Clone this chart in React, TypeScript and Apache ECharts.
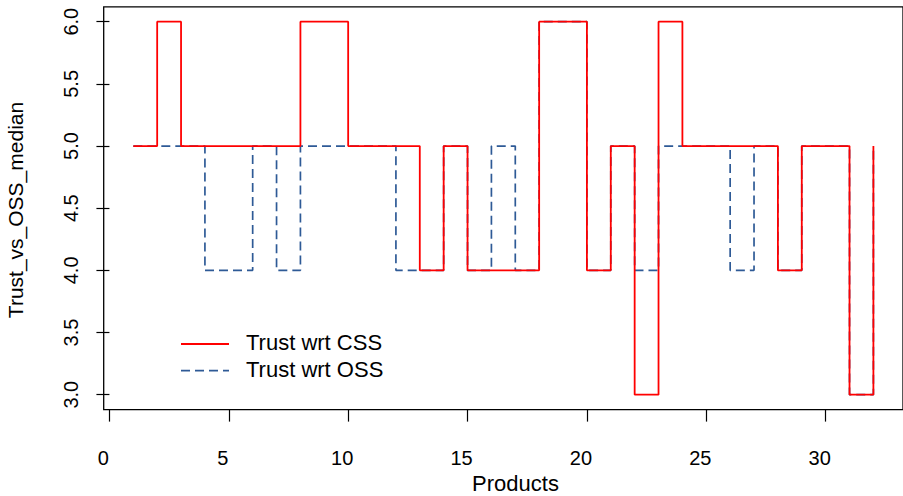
import React, { useEffect, useRef } from "react";
import * as echarts from "echarts";

const products = [1,2,3,4,5,6,7,8,9,10,11,12,13,14,15,16,17,18,19,20,21,22,23,24,25,26,27,28,29,30,31,32];
const trustCSS = [5,6,5,5,5,5,5,6,6,5,5,5,4,5,4,4,4,6,6,4,5,3,6,5,5,5,5,4,5,5,3,5];
const trustOSS = [5,5,5,4,4,5,4,5,5,5,5,4,4,5,4,5,4,6,6,4,5,4,5,5,5,4,5,4,5,5,3,5];
const xTicks = [0,5,10,15,20,25,30];
const yTicks = [3.0,3.5,4.0,4.5,5.0,5.5,6.0];
const legendLabels = ["Trust wrt CSS", "Trust wrt OSS"];

const RED = "#FF0000";
const BLUE = "#2E5A96";
const FONT = "Liberation Sans, Arial, Helvetica, sans-serif";

export default function App() {
  const ref = useRef<HTMLDivElement>(null);
  useEffect(() => {
    if (!ref.current) return;
    const chart = echarts.init(ref.current, null, { renderer: "svg" });
    const cssData = products.map((p, i) => [p, trustCSS[i]]);
    const ossData = products.map((p, i) => [p, trustOSS[i]]);
    chart.setOption({
      animation: false,
      backgroundColor: "#fff",
      grid: {
        show: true,
        left: 103.7,
        right: -1,
        top: 6.8,
        bottom: 86.4,
        borderColor: "#000",
        borderWidth: 1.3,
        backgroundColor: "transparent",
      },
      xAxis: {
        type: "value",
        min: -0.24,
        max: 33.24,
        axisLine: { show: false },
        splitLine: { show: false },
        axisTick: {
          show: true,
          length: 12,
          customValues: xTicks,
          lineStyle: { color: "#000", width: 1.2 },
        },
        axisLabel: {
          show: true,
          customValues: xTicks,
          margin: 38,
          color: "#000",
          fontFamily: FONT,
          fontSize: 20,
          padding: [0, 12, 0, 0],
          formatter: (v: number) => String(v),
        },
      },
      yAxis: {
        type: "value",
        min: 2.88,
        max: 6.12,
        axisLine: { show: false },
        splitLine: { show: false },
        axisTick: {
          show: true,
          length: 13,
          customValues: yTicks,
          lineStyle: { color: "#000", width: 1.2 },
        },
        axisLabel: {
          show: true,
          customValues: yTicks,
          rotate: 90,
          margin: 23,
          color: "#000",
          fontFamily: FONT,
          fontSize: 20,
          formatter: (v: number) => v.toFixed(1),
        },
      },
      series: [
        {
          name: legendLabels[1],
          type: "line",
          step: "end",
          data: ossData,
          showSymbol: false,
          symbol: "none",
          silent: true,
          lineStyle: { color: BLUE, width: 1.7, type: [9, 5] },
          z: 2,
        },
        {
          name: legendLabels[0],
          type: "line",
          step: "end",
          data: cssData,
          showSymbol: false,
          symbol: "none",
          silent: true,
          lineStyle: { color: RED, width: 1.8, type: "solid" },
          z: 3,
        },
      ],
      graphic: [
        {
          type: "line",
          shape: { x1: 181, y1: 344, x2: 229, y2: 344 },
          style: { stroke: RED, lineWidth: 1.8 },
        },
        {
          type: "line",
          shape: { x1: 181, y1: 370.7, x2: 229, y2: 370.7 },
          style: { stroke: BLUE, lineWidth: 1.7, lineDash: [9, 5] },
        },
        {
          type: "text",
          x: 246,
          y: 342.5,
          style: {
            text: legendLabels[0],
            fill: "#000",
            font: `22px ${FONT}`,
            textAlign: "left",
            textVerticalAlign: "middle",
          },
        },
        {
          type: "text",
          x: 246,
          y: 369.5,
          style: {
            text: legendLabels[1],
            fill: "#000",
            font: `22px ${FONT}`,
            textAlign: "left",
            textVerticalAlign: "middle",
          },
        },
        {
          type: "text",
          x: 515.5,
          y: 483,
          style: {
            text: "Products",
            fill: "#000",
            font: `22px ${FONT}`,
            textAlign: "center",
            textVerticalAlign: "middle",
          },
        },
        {
          type: "text",
          x: 15,
          y: 210,
          rotation: Math.PI / 2,
          style: {
            text: "Trust_vs_OSS_median",
            fill: "#000",
            font: `21px ${FONT}`,
            textAlign: "center",
            textVerticalAlign: "middle",
          },
        },
      ],
    });
    return () => chart.dispose();
  }, []);
  return (
    <div
      ref={ref}
      style={{ position: "fixed", left: 0, top: 0, width: 903, height: 496 }}
    />
  );
}
